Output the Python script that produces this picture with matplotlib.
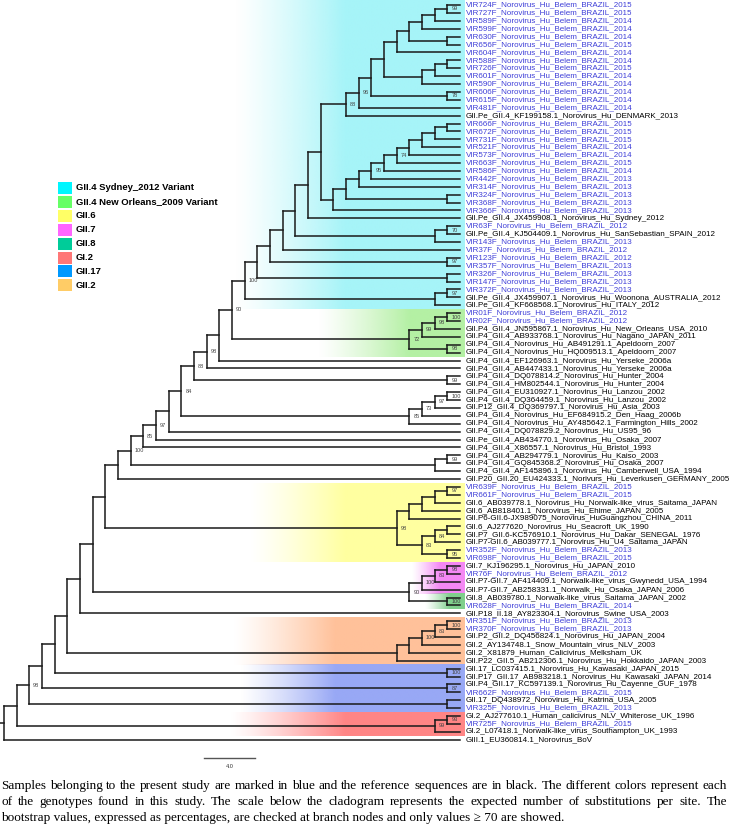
# Cladogram of norovirus sequences (Belem samples vs. reference strains)
import matplotlib
matplotlib.use('Agg')
import matplotlib.pyplot as plt
import numpy as np
from matplotlib.colors import to_rgb
from matplotlib.patches import Rectangle


# Tip labels, top to bottom. Samples from this study start with "VIR".
names = [
  "VIR724F_Norovirus_Hu_Belem_BRAZIL_2015",
  "VIR727F_Norovirus_Hu_Belem_BRAZIL_2015",
  "VIR589F_Norovirus_Hu_Belem_BRAZIL_2014",
  "VIR599F_Norovirus_Hu_Belem_BRAZIL_2014",
  "VIR630F_Norovirus_Hu_Belem_BRAZIL_2014",
  "VIR656F_Norovirus_Hu_Belem_BRAZIL_2015",
  "VIR604F_Norovirus_Hu_Belem_BRAZIL_2014",
  "VIR588F_Norovirus_Hu_Belem_BRAZIL_2014",
  "VIR726F_Norovirus_Hu_Belem_BRAZIL_2015",
  "VIR601F_Norovirus_Hu_Belem_BRAZIL_2014",
  "VIR590F_Norovirus_Hu_Belem_BRAZIL_2014",
  "VIR606F_Norovirus_Hu_Belem_BRAZIL_2014",
  "VIR615F_Norovirus_Hu_Belem_BRAZIL_2014",
  "VIR481F_Norovirus_Hu_Belem_BRAZIL_2014",
  "GII.Pe_GII.4_KF199158.1_Norovirus_Hu_DENMARK_2013",
  "VIR666F_Norovirus_Hu_Belem_BRAZIL_2015",
  "VIR672F_Norovirus_Hu_Belem_BRAZIL_2015",
  "VIR731F_Norovirus_Hu_Belem_BRAZIL_2015",
  "VIR521F_Norovirus_Hu_Belem_BRAZIL_2014",
  "VIR573F_Norovirus_Hu_Belem_BRAZIL_2014",
  "VIR663F_Norovirus_Hu_Belem_BRAZIL_2015",
  "VIR586F_Norovirus_Hu_Belem_BRAZIL_2014",
  "VIR442F_Norovirus_Hu_Belem_BRAZIL_2013",
  "VIR314F_Norovirus_Hu_Belem_BRAZIL_2013",
  "VIR324F_Norovirus_Hu_Belem_BRAZIL_2013",
  "VIR368F_Norovirus_Hu_Belem_BRAZIL_2013",
  "VIR366F_Norovirus_Hu_Belem_BRAZIL_2013",
  "GII.Pe_GII.4_JX459908.1_Norovirus_Hu_Sydney_2012",
  "VIR63F_Norovirus_Hu_Belem_BRAZIL_2012",
  "GII.Pe_GII.4_KJ504409.1_Norovirus_Hu_SanSebastian_SPAIN_2012",
  "VIR143F_Norovirus_Hu_Belem_BRAZIL_2013",
  "VIR37F_Norovirus_Hu_Belem_BRAZIL_2012",
  "VIR123F_Norovirus_Hu_Belem_BRAZIL_2012",
  "VIR357F_Norovirus_Hu_Belem_BRAZIL_2013",
  "VIR326F_Norovirus_Hu_Belem_BRAZIL_2013",
  "VIR147F_Norovirus_Hu_Belem_BRAZIL_2013",
  "VIR372F_Norovirus_Hu_Belem_BRAZIL_2013",
  "GII.Pe_GII.4_JX459907.1_Norovirus_Hu_Woonona_AUSTRALIA_2012",
  "GII.Pe_GII.4_KF668568.1_Norovirus_Hu_ITALY_2012",
  "VIR01F_Norovirus_Hu_Belem_BRAZIL_2012",
  "VIR02F_Norovirus_Hu_Belem_BRAZIL_2012",
  "GII.P4_GII.4_JN595867.1_Norovirus_Hu_New_Orleans_USA_2010",
  "GII.P4_GII.4_AB933768.1_Norovirus_Hu_Nagano_JAPAN_2011",
  "GII.P4_GII.4_Norovirus_Hu_AB491291.1_Apeldoorn_2007",
  "GII.P4_GII.4_Norovirus_Hu_HQ009513.1_Apeldoorn_2007",
  "GII.P4_GII.4_EF126963.1_Norovirus_Hu_Yerseke_2006a",
  "GII.P4_GII.4_AB447433.1_Norovirus_Hu_Yerseke_2006a",
  "GII.P4_GII.4_DQ078814.2_Norovirus_Hu_Hunter_2004",
  "GII.P4_GII.4_HM802544.1_Norovirus_Hu_Hunter_2004",
  "GII.P4_GII.4_EU310927.1_Norovirus_Hu_Lanzou_2002",
  "GII.P4_GII.4_DQ364459.1_Norovirus_Hu_Lanzou_2002",
  "GII.P12_GII.4_DQ369797.1_Norovirus_Hu_Asia_2003",
  "GII.P4_GII.4_Norovirus_Hu_EF684915.2_Den_Haag_2006b",
  "GII.P4_GII.4_Norovirus_Hu_AY485642.1_Farmington_Hills_2002",
  "GII.P4_GII.4_DQ078829.2_Norovirus_Hu_US95_96",
  "GII.Pe_GII.4_AB434770.1_Norovirus_Hu_Osaka_2007",
  "GII.P4_GII.4_X86557.1_Norovirus_Hu_Bristol_1993",
  "GII.P4_GII.4_AB294779.1_Norovirus_Hu_Kaiso_2003",
  "GII.P4_GII.4_GQ845368.2_Norovirus_Hu_Osaka_2007",
  "GII.P4_GII.4_AF145896.1_Norovirus_Hu_Camberwell_USA_1994",
  "GII.P20_GII.20_EU424333.1_Norivurs_Hu_Leverkusen_GERMANY_2005",
  "VIR639F_Norovirus_Hu_Belem_BRAZIL_2015",
  "VIR661F_Norovirus_Hu_Belem_BRAZIL_2015",
  "GII.6_AB039778.1_Norovirus_Hu_Norwalk-like_virus_Saitama_JAPAN",
  "GII.6_AB818401.1_Norovirus_Hu_Ehime_JAPAN_2005",
  "GII.P6-GII.6-JX989075_Norovirus_HuGuangzhou_CHINA_2011",
  "GII.6_AJ277620_Norovirus_Hu_Seacroft_UK_1990",
  "GII.P7_GII.6-KC576910.1_Norovirus_Hu_Dakar_SENEGAL_1976",
  "GII.P7-GII.6_AB039777.1_Norovirus_Hu_U4_Saitama_JAPAN",
  "VIR352F_Norovirus_Hu_Belem_BRAZIL_2013",
  "VIR698F_Norovirus_Hu_Belem_BRAZIL_2015",
  "GII.7_KJ196295.1_Norovirus_Hu_JAPAN_2010",
  "VIR76F_Norovirus_Hu_Belem_BRAZIL_2012",
  "GII.P7-GII.7_AF414409.1_Norwalk-like_virus_Gwynedd_USA_1994",
  "GII.P7-GII.7_AB258331.1_Norwalk_Hu_Osaka_JAPAN_2006",
  "GII.8_AB039780.1_Norwalk-like_virus_Saitama_JAPAN_2002",
  "VIR628F_Norovirus_Hu_Belem_BRAZIL_2014",
  "GII.P18_II.18_AY823304.1_Norovirus_Swine_USA_2003",
  "VIR351F_Norovirus_Hu_Belem_BRAZIL_2013",
  "VIR370F_Norovirus_Hu_Belem_BRAZIL_2013",
  "GII.P2_GII.2_DQ456824.1_Norovirus_Hu_JAPAN_2004",
  "GII.2_AY134748.1_Snow_Mountain_virus_NLV_2003",
  "GII.2_X81879_Human_Calicivirus_Melksham_UK",
  "GII.P22_GII.5_AB212306.1_Norovirus_Hu_Hokkaido_JAPAN_2003",
  "GII.17_LC037415.1_Norovirus_Hu_Kawasaki_JAPAN_2015",
  "GII.P17_GII.17_AB983218.1_Norovirus_Hu_Kawasaki_JAPAN_2014",
  "GII.P4_GII.17_KC597139.1_Norovirus_Hu_Cayenne_GUF_1978",
  "VIR662F_Norovirus_Hu_Belem_BRAZIL_2015",
  "GII.17_DQ438972_Norovirus_Hu_Katrina_USA_2005",
  "VIR325F_Norovirus_Hu_Belem_BRAZIL_2013",
  "GI.2_AJ277610.1_Human_calicivirus_NLV_Whiterose_UK_1996",
  "VIR725F_Norovirus_Hu_Belem_BRAZIL_2015",
  "GI.2_L07418.1_Norwalk-like_virus_Southampton_UK_1993",
  "GIII.1_EU360814.1_Norovirus_BoV",
]

# Clades in Newick form, tips are 1-based row numbers, node labels are
# bootstrap values (only >= 70 shown)
syd_top = "(((((((((1,2)99,3),4),(5,6)),7),(((8,9),10),11)),(12,13)78),14)96,15)88"
syd_mid = "((((((((((16,17),18),19),20),21)74,22),23)95,24),(25,26)),27)"
syd_steps = [("28", ""), ("((29,30)70,31)", ""), ("32", ""), ("(33,34)97", ""),
             ("(35,36)", ""), ("((37,38)97,39)", "100")]
new_orleans = "((((40,41)100,42)98,43)99,(44,45)98)72"
gii4_old = "((((50,51)100,52)97,53)73,54)85"
gii6 = "(((((62,63)97,64),65),66),(((67,68),69)84,(70,71)95)83)98"
gii7_8 = "((((72,73)98,74)83,75)100,(76,77)100)90"
gii2 = "(((((79,80)100,81)83,82)100,83),84)"
gi2 = "((91,92)93,93)99"
# backbone from the GII.4 Sydney clade down to the root: (sister, bootstrap)
backbone = [
  (new_orleans, "90"), ("46", ""), ("47", "98"), ("(48,49)99", "88"),
  (gii4_old, "84"), ("55", ""), ("56", "97"), ("57", "85"),
  ("((58,59)99,60)", "100"), ("61", ""), (gii6, ""), (gii7_8, ""),
  ("78", ""), (gii2, ""), ("(85,86)100", ""), ("(87,88)87", ""),
  ("(89,90)", "98"), (gi2, ""), ("94", ""),
]

legend_labels = ["GII.4 Sydney_2012 Variant", "GII.4 New Orleans_2009 Variant",
                 "GII.6", "GII.7", "GII.8", "GI.2", "GII.17", "GII.2"]
legend_colors = ["#00f6ff", "#66ff66", "#ffff66", "#ff66ff", "#00cc99",
                 "#ff7777", "#0099ff", "#ffcc66"]

# Shaded genotype blocks: colour, first row, last row, fade start/end (px)
band_colors = ["#a6f4f8", "#b4f0a4", "#ffffa0", "#f488f4", "#7fcf8c",
               "#ffc19a", "#98a8f5", "#ff8585"]
band_rows = [(1, 39), (40, 45), (62, 71), (72, 75), (76, 77), (79, 84),
             (85, 90), (91, 93)]
band_fade = [(235, 345), (318, 410), (250, 345), (412, 440), (425, 450),
             (233, 335), (240, 335), (230, 345)]

caption = [
  "Samples belonging to the present study are marked in blue and the reference "
  "sequences are in black. The different colors represent each",
  "of the genotypes found in this study. The scale below the cladogram "
  "represents the expected number of substitutions per site. The",
  "bootstrap values, expressed as percentages, are checked at branch nodes "
  "and only values \u2265 70 are showed.",
]
scale_label = "4.0"

W, H = 729, 825
TIP_X = 460      # where the branches end
TOP = 5          # y of the first tip
ROW = 7.9        # row spacing
STEP = 12.67     # horizontal step per node level
LINE = '#1a1a1a'
BLUE = '#3f3fd8'
SERIF = ['Liberation Serif', 'DejaVu Serif']


def build_newick():
  core = f"({syd_top},{syd_mid})"
  for sis, bs in syd_steps:
    core = f"({core},{sis}){bs}"
  for sis, bs in backbone:
    core = f"({core},{sis}){bs}"
  return core


def parse(s):
  pos = 0

  def node():
    nonlocal pos
    if s[pos] == '(':
      pos += 1
      kids = [node()]
      while s[pos] == ',':
        pos += 1
        kids.append(node())
      pos += 1
      lab = ''
      while pos < len(s) and s[pos] not in ',)':
        lab += s[pos]
        pos += 1
      return {'kids': kids, 'label': lab}
    num = ''
    while pos < len(s) and s[pos].isdigit():
      num += s[pos]
      pos += 1
    return {'tip': int(num) - 1}

  return node()


def layout(n):
  # cladogram: tips aligned, node x set by its height above the tips
  if 'tip' in n:
    n['h'] = 0
    n['y'] = TOP + ROW * n['tip']
  else:
    for k in n['kids']:
      layout(k)
    n['h'] = 1 + max(k['h'] for k in n['kids'])
    n['y'] = (n['kids'][0]['y'] + n['kids'][-1]['y']) / 2
  n['x'] = TIP_X - STEP * n['h']


def draw(ax, n, parent_x):
  ax.plot([parent_x, n['x']], [n['y'], n['y']], color=LINE, lw=1.1,
          solid_capstyle='projecting', zorder=2)
  if 'tip' in n:
    return
  ys = [k['y'] for k in n['kids']]
  ax.plot([n['x'], n['x']], [min(ys), max(ys)], color=LINE, lw=1.1,
          solid_capstyle='projecting', zorder=2)
  if n['label']:
    ax.text(n['x'] + 4, n['y'], n['label'], fontsize=4.1, color='#444444',
            ha='left', va='center', family='Liberation Sans', zorder=3)
  for k in n['kids']:
    draw(ax, k, n['x'])


def shade(ax, color, y0, y1, x0, x1):
  xs = np.linspace(x0, TIP_X + 5, 400)
  img = np.zeros((1, len(xs), 4))
  img[..., :3] = to_rgb(color)
  img[..., 3] = np.clip((xs - x0) / (x1 - x0), 0, 1) ** 1.2
  ax.imshow(img, extent=[x0, TIP_X + 5, y1, y0], aspect='auto',
            interpolation='bilinear', zorder=0)


def justify(fig, ax, line, y, left, right, fs):
  # spread the words of one caption line over the full width
  words = line.split(' ')
  texts = [ax.text(0, y, w, fontsize=fs, family=SERIF, ha='left', va='center')
           for w in words]
  r = fig.canvas.get_renderer()
  widths = [t.get_window_extent(r).width for t in texts]
  gap = (right - left - sum(widths)) / (len(words) - 1)
  x = left
  for t, w in zip(texts, widths):
    t.set_x(x)
    x += w + gap


def main():
  fig = plt.figure(figsize=(W / 100, H / 100), dpi=100)
  ax = fig.add_axes([0, 0, 1, 1])
  ax.axis('off')

  # coloured genotype blocks behind the tree
  for color, (a, b), (f0, f1) in zip(band_colors, band_rows, band_fade):
    y0 = max(0, TOP + ROW * (a - 1) - ROW / 2)
    y1 = TOP + ROW * (b - 1) + ROW / 2
    shade(ax, color, y0, y1, f0, f1)

  root = parse(build_newick())
  layout(root)
  draw(ax, root, 0)

  for i, name in enumerate(names):
    ax.text(TIP_X + 6, TOP + ROW * i, name, fontsize=5.75, family='Liberation Sans',
            color=BLUE if name.startswith('VIR') else 'black',
            ha='left', va='center', zorder=3)

  # legend
  for i, (lab, col) in enumerate(zip(legend_labels, legend_colors)):
    y = 188 + 13.9 * i
    ax.add_patch(Rectangle((58, y - 6), 14, 12, color=col, lw=0, zorder=3))
    ax.text(76, y, lab, fontsize=6.8, fontweight='bold', family='Liberation Sans',
            ha='left', va='center')

  # scale bar
  ax.plot([204, 255], [758, 758], color='#555555', lw=1.0)
  ax.text(230, 767, scale_label, fontsize=4.0, ha='center', va='center',
          family='Liberation Sans', color='#333333')

  ax.set_xlim(0, W)
  ax.set_ylim(H, 0)

  fs = 9.5
  justify(fig, ax, caption[0], 786, 1, 727, fs)
  justify(fig, ax, caption[1], 802, 1, 727, fs)
  ax.text(1, 818, caption[2], fontsize=fs, family=SERIF, ha='left', va='center')

  fig.savefig('out.png', dpi=100)
  plt.close(fig)


if __name__ == '__main__':
  main()
